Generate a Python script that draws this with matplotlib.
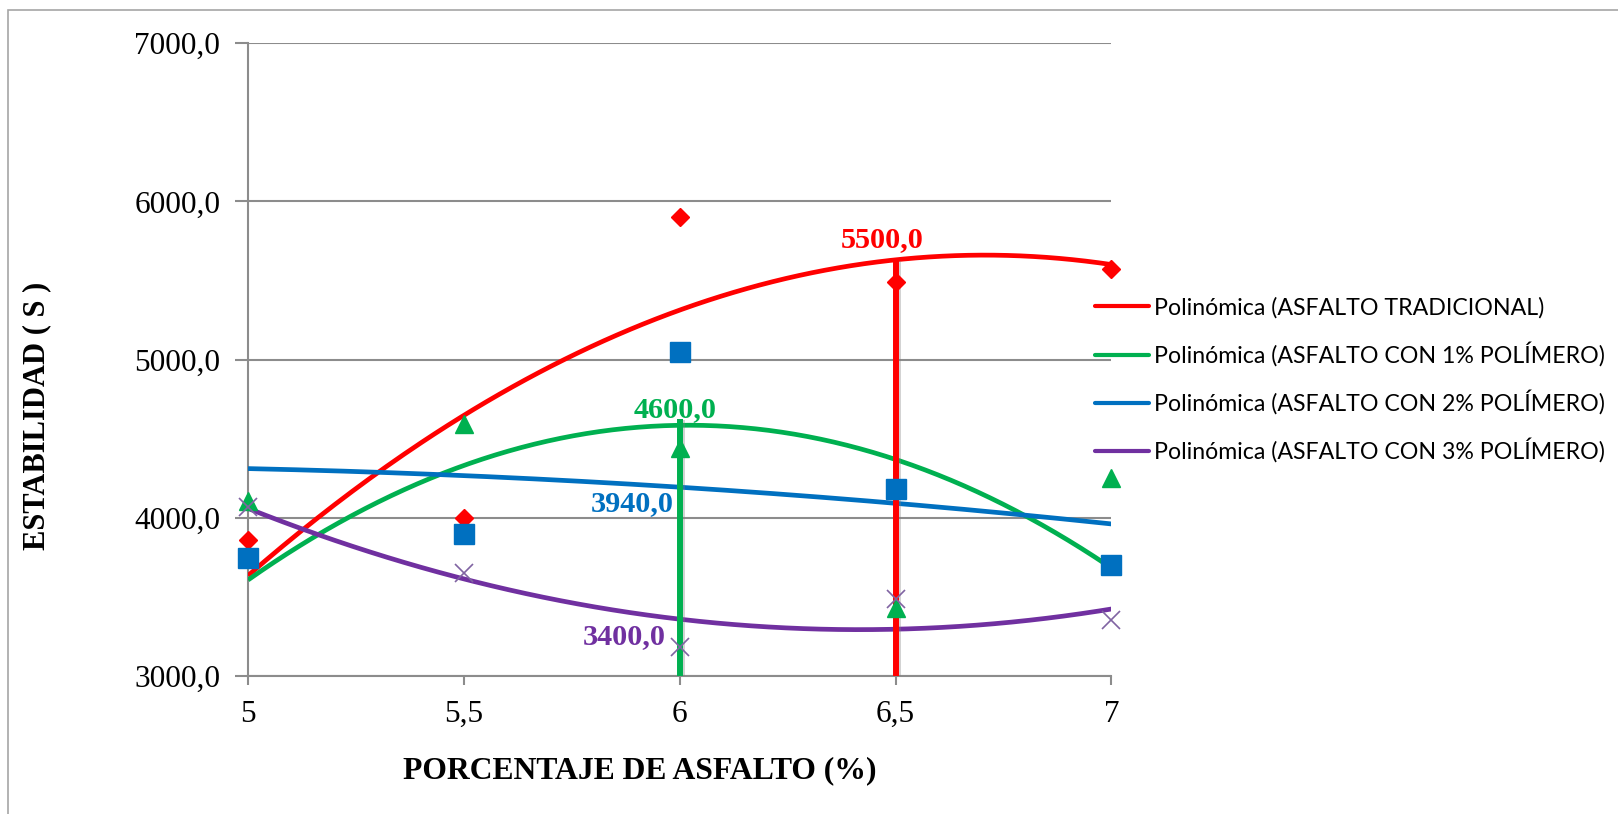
import numpy as np
import matplotlib
matplotlib.use("Agg")
import matplotlib.pyplot as plt
import matplotlib.patheffects as pe
from matplotlib.patches import Rectangle

# ---------------- data ----------------
x_pct = [5, 5.5, 6, 6.5, 7]
# markers as they appear in the chart
red_diamonds = [3860, 4000, 5905, 5490, 5573]
blue_squares = [3745, 3900, 5050, 4180, 3700]
green_triangles = [4107, 4592, 4444, 3433, 4249]
purple_crosses = [4069, 3653, 3185, 3489, 3356]

x_ticks = [5, 5.5, 6, 6.5, 7]
x_tick_labels = ["5", "5,5", "6", "6,5", "7"]
y_ticks = [3000, 4000, 5000, 6000, 7000]
y_tick_labels = ["3000,0", "4000,0", "5000,0", "6000,0", "7000,0"]

trend_labels = ["Polinómica (ASFALTO TRADICIONAL)",
                "Polinómica (ASFALTO CON 1% POLÍMERO)",
                "Polinómica (ASFALTO CON 2% POLÍMERO)",
                "Polinómica (ASFALTO CON 3% POLÍMERO)"]

# annotation values
annot_texts = ["5500,0", "4600,0", "3940,0", "3400,0"]
annot_x = [6.47, 5.99, 5.889, 5.872]
annot_y = [5760, 4686, 4091, 3248]

# vertical marker lines (x positions)
vline_x = [6.0, 6.5]

# ---------------- style ----------------
RED = "#FF0000"
GREEN = "#00B050"
BLUE = "#0070C0"
PURPLE = "#7030A0"
XPURP = "#8064A2"
GRID = "#8C8C8C"

serif = "Liberation Serif"
sans = "Lato"

fig = plt.figure(figsize=(16.18, 8.14), dpi=100)
L, R, T, B = 248, 1111.4, 43.3, 676.0
W, H = 1618, 814
ax = fig.add_axes([L / W, 1 - B / H, (R - L) / W, (B - T) / H])

# outer border
fig.patches.append(Rectangle((8 / W, -0.05), 1.1, 1 - 10 / H + 0.05,
                             transform=fig.transFigure, fill=False,
                             edgecolor="#A6A6A6", lw=1.2, zorder=0))

ax.set_xlim(5, 7)
ax.set_ylim(3000, 7000)
ax.set_xticks(x_ticks)
ax.set_xticklabels(x_tick_labels, fontfamily=serif, fontsize=22.5)
ax.set_yticks(y_ticks)
ax.set_yticklabels(y_tick_labels, fontfamily=serif, fontsize=22.5)
ax.tick_params(axis="y", length=9.5, width=1.5, color=GRID, pad=10.5)
ax.tick_params(axis="x", length=6.5, width=1.5, color=GRID, pad=11)
ax.grid(axis="y", color=GRID, lw=1.5, zorder=0)
ax.set_axisbelow(True)
for s in ["top", "right"]:
    ax.spines[s].set_visible(False)
for s in ["left", "bottom"]:
    ax.spines[s].set_color(GRID)
    ax.spines[s].set_linewidth(1.5)

ax.set_xlabel("PORCENTAJE DE ASFALTO (%)", fontfamily=serif, fontweight="bold", fontsize=22.8)
ax.xaxis.set_label_coords((640 - L) / (R - L), (B - 771) / (B - T))
ax.xaxis.label.set_va("center")
ax.set_ylabel("ESTABILIDAD ( S )", fontfamily=serif, fontweight="bold", fontsize=22)
ax.yaxis.set_label_coords((37 - L) / (R - L), (B - 416) / (B - T))
ax.yaxis.label.set_va("center")

# trend lines (2nd order polynomial fits)
xs = np.linspace(5, 7, 200)
fits = [
    (red_diamonds, RED),
    (blue_squares, GREEN),
    (green_triangles, BLUE),
    (purple_crosses, PURPLE),
]
polys = []
for (data, col), lab in zip(fits, trend_labels):
    p = np.polyfit(x_pct, data, 2)
    polys.append(p)
    ax.plot(xs, np.polyval(p, xs), color=col, lw=3.4, label=lab, zorder=3,
            solid_capstyle="butt")

# vertical lines up to the trend values
shadow = [pe.SimpleLineShadow(offset=(2, -1), shadow_color="gray", alpha=0.35), pe.Normal()]
ax.plot([vline_x[0], vline_x[0]], [3000, np.polyval(polys[1], vline_x[0]) + 40],
        color=GREEN, lw=4.3, zorder=4, path_effects=shadow, solid_capstyle="butt")
ax.plot([vline_x[1], vline_x[1]], [3000, np.polyval(polys[0], vline_x[1])],
        color=RED, lw=4.3, zorder=4, path_effects=shadow, solid_capstyle="butt")

# markers
ax.plot(x_pct, red_diamonds, ls="none", marker="D", ms=9.5, color=RED, mec=RED,
        zorder=5, clip_on=False)
ax.plot(x_pct, blue_squares, ls="none", marker="s", ms=14, color=BLUE, mec=BLUE,
        zorder=5, clip_on=False)
ax.plot(x_pct, green_triangles, ls="none", marker="^", ms=13.5, color=GREEN, mec=GREEN,
        zorder=5, clip_on=False)
ax.plot(x_pct, purple_crosses, ls="none", marker="x", ms=13.5, color=XPURP, mew=1.2,
        zorder=5, clip_on=False)

# annotations
annot_colors = [RED, GREEN, BLUE, PURPLE]
for t, xx, yy, c in zip(annot_texts, annot_x, annot_y, annot_colors):
    ax.text(xx, yy, t, color=c, fontfamily=serif, fontweight="bold", fontsize=21.8,
            ha="center", va="center", zorder=6)

# legend
fs = 16.7
fs_px = fs * 100 / 72
leg = fig.legend(loc="center left", bbox_to_anchor=(1095 / W, 1 - 380 / H),
                 frameon=False, borderpad=0, borderaxespad=0,
                 handlelength=54 / fs_px, handletextpad=5 / fs_px,
                 labelspacing=1.0, prop={"family": sans, "size": fs})
for h in leg.legend_handles:
    h.set_linewidth(3.0)
    h.set_solid_capstyle("round")

fig.savefig("out.png", dpi=100)
